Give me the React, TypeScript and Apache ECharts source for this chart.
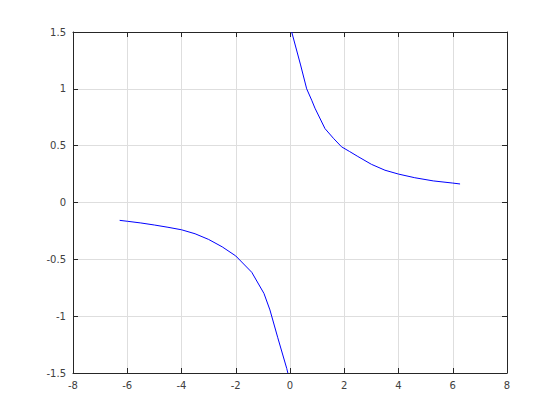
import React, { useEffect, useRef } from "react";
import * as echarts from "echarts";

const leftX = [-6.28, -6.0, -5.5, -5.0, -4.5, -4.0, -3.5, -3.0, -2.5, -2.0, -1.41, -0.96, -0.74, -0.45, -0.12, -0.08];
const leftY = [-0.157, -0.165, -0.18, -0.198, -0.218, -0.24, -0.275, -0.325, -0.39, -0.47, -0.614, -0.8, -0.945, -1.19, -1.46, -1.5];
const rightX = [0.063, 0.39, 0.615, 0.8, 0.92, 1.29, 1.6, 1.9, 2.2, 2.5, 3.0, 3.5, 4.0, 4.6, 5.28, 6.0, 6.27];
const rightY = [1.5, 1.21, 1.0, 0.9, 0.83, 0.65, 0.565, 0.49, 0.448, 0.405, 0.336, 0.284, 0.25, 0.218, 0.19, 0.171, 0.163];

const xTicks = { min: -8, max: 8, interval: 2 };
const yTicks = { min: -1.5, max: 1.5, interval: 0.5 };

const AXIS_COLOR = "#262626";
const GRID_COLOR = "#dedede";
const FONT = "DejaVu Sans";

export default function App() {
  const ref = useRef<HTMLDivElement>(null);
  useEffect(() => {
    if (!ref.current) return;
    const chart = echarts.init(ref.current, null, { renderer: "svg" });
    const pairs = (xs: number[], ys: number[]) => xs.map((x, i) => [x, ys[i]]);
    const baseX = {
      type: "value" as const,
      min: xTicks.min,
      max: xTicks.max,
      interval: xTicks.interval,
      axisLine: { onZero: false, lineStyle: { color: AXIS_COLOR, width: 1 } },
      axisTick: { inside: true, length: 5, lineStyle: { color: AXIS_COLOR } },
    };
    const baseY = {
      type: "value" as const,
      min: yTicks.min,
      max: yTicks.max,
      interval: yTicks.interval,
      axisLine: { onZero: false, lineStyle: { color: AXIS_COLOR, width: 1 } },
      axisTick: { inside: true, length: 5, lineStyle: { color: AXIS_COLOR } },
    };
    chart.setOption({
      animation: false,
      backgroundColor: "#ffffff",
      grid: { left: 73, right: 53, top: 32, bottom: 47 },
      xAxis: [
        {
          ...baseX,
          position: "bottom",
          axisLabel: { color: "#404040", fontSize: 10, fontFamily: FONT, margin: 7 },
          splitLine: { show: true, lineStyle: { color: GRID_COLOR, width: 1 } },
        },
        {
          ...baseX,
          position: "top",
          axisLabel: { show: false },
          splitLine: { show: false },
        },
      ],
      yAxis: [
        {
          ...baseY,
          position: "left",
          axisLabel: { color: "#404040", fontSize: 10, fontFamily: FONT, margin: 7 },
          splitLine: { show: true, lineStyle: { color: GRID_COLOR, width: 1 } },
        },
        {
          ...baseY,
          position: "right",
          axisLabel: { show: false },
          splitLine: { show: false },
        },
      ],
      series: [
        {
          type: "line",
          data: pairs(leftX, leftY),
          showSymbol: false,
          clip: true,
          lineStyle: { color: "#0000ff", width: 1 },
        },
        {
          type: "line",
          data: pairs(rightX, rightY),
          showSymbol: false,
          clip: true,
          lineStyle: { color: "#0000ff", width: 1 },
        },
      ],
    });
    return () => chart.dispose();
  }, []);
  return <div ref={ref} style={{ width: 560, height: 420, position: "absolute", left: 0, top: 0 }} />;
}
